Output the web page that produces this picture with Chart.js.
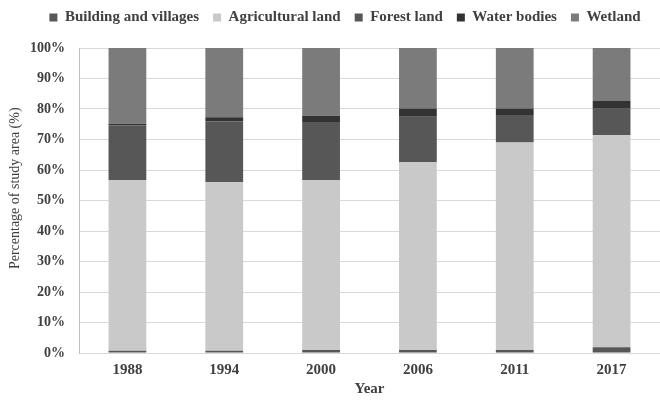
<!DOCTYPE html>
<html>
<head>
<meta charset="utf-8">
<script src="https://cdn.jsdelivr.net/npm/chart.js@4"></script>
<style>
  html, body { margin: 0; padding: 0; background: #ffffff; }
  #wrap { width: 660px; height: 400px; }
</style>
</head>
<body>
<div id="wrap"><canvas id="c" width="660" height="400"></canvas></div>
<script>
// Land-use shares of the study area by survey year (%)
const years = ['1988', '1994', '2000', '2006', '2011', '2017'];
const building     = [0.7, 0.7, 1.0, 1.0, 1.0, 1.9];
const agricultural = [55.9, 55.3, 55.6, 61.6, 68.0, 69.5];
const forest       = [18.0, 20.0, 19.1, 14.9, 9.0, 8.7];
const water        = [0.6, 1.3, 2.1, 2.7, 2.2, 2.5];
const wetland      = [24.8, 22.7, 22.2, 19.8, 19.8, 17.4];
const yTicks = [0, 10, 20, 30, 40, 50, 60, 70, 80, 90, 100];

const serif = '"Liberation Serif", "Times New Roman", serif';
const textColor = '#404040';

function series(label, data, color) {
  return {
    label: label,
    data: data,
    backgroundColor: color,
    borderWidth: 0,
    barPercentage: 0.39,
    categoryPercentage: 1.0
  };
}

// Gives the legend a fixed band above the plot and nudges it into place
const legendBand = {
  id: 'legendBand',
  afterInit(chart) {
    const lg = chart.legend;
    if (!lg) return;
    const fit = lg.fit;
    lg.fit = function () {
      fit.call(this);
      this.height = 48;
    };
  },
  afterLayout(chart) {
    const lg = chart.legend;
    if (!lg) return;
    lg.left += 15;
    lg.right += 15;
    lg.top -= 4;
    lg.bottom -= 4;
  }
};

// leading non-breaking spaces lift the rotated axis title a little above centre
const yTitle = '\u00a0'.repeat(7) + 'Percentage of study area (%)';

new Chart(document.getElementById('c'), {
  type: 'bar',
  data: {
    labels: years,
    datasets: [
      series('Building and villages', building, '#575757'),
      series('Agricultural land', agricultural, '#c9c9c9'),
      series('Forest land', forest, '#575757'),
      series('Water bodies', water, '#333333'),
      series('Wetland', wetland, '#7b7b7b')
    ]
  },
  plugins: [legendBand],
  options: {
    responsive: false,
    animation: false,
    layout: { padding: { left: 0, right: 0, top: 0, bottom: 0 } },
    plugins: {
      tooltip: { enabled: false },
      legend: {
        position: 'top',
        labels: {
          color: textColor,
          font: { family: serif, size: 15, weight: 'bold' },
          boxWidth: 8,
          boxHeight: 8,
          padding: 14
        }
      }
    },
    scales: {
      x: {
        stacked: true,
        afterFit(scale) { scale.height = 47; },
        grid: { display: false, drawTicks: false },
        border: { display: true, color: '#d9d9d9', width: 1 },
        ticks: {
          color: textColor,
          font: { family: serif, size: 15, weight: 'bold' },
          padding: 8
        },
        title: {
          display: true,
          text: 'Year',
          color: textColor,
          font: { family: serif, size: 15, weight: 'bold' },
          padding: { top: 0, bottom: 2 }
        }
      },
      y: {
        stacked: true,
        min: 0,
        max: 100,
        afterFit(scale) { scale.width = 79; },
        afterBuildTicks(axis) {
          axis.ticks = yTicks.map(v => ({ value: v }));
        },
        grid: { color: '#d9d9d9', drawTicks: false },
        border: { display: true, color: '#bfbfbf', width: 1 },
        ticks: {
          color: textColor,
          font: { family: serif, size: 14, weight: 'bold' },
          padding: 14,
          callback: v => v + '%'
        },
        title: {
          display: true,
          text: yTitle,
          color: textColor,
          font: { family: serif, size: 14 },
          padding: { top: 7, bottom: 0 }
        }
      }
    }
  }
});
</script>
</body>
</html>
